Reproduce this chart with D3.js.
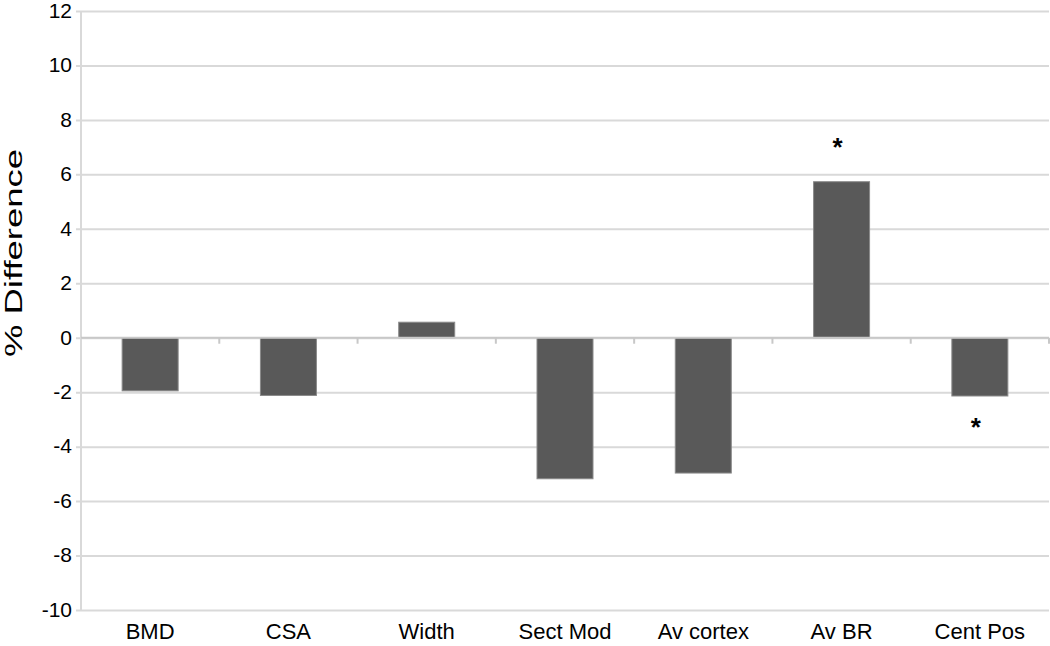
<!DOCTYPE html>
<html>
<head>
<meta charset="utf-8">
<script src="https://cdn.jsdelivr.net/npm/d3@7"></script>
<style>
  html, body { margin: 0; padding: 0; background: #fff; }
  svg { display: block; font-family: "Liberation Sans", Arial, Helvetica, sans-serif; }
</style>
</head>
<body>
<svg id="chart" width="1050" height="646"></svg>
<script>
const categories = ["BMD", "CSA", "Width", "Sect Mod", "Av cortex", "Av BR", "Cent Pos"];
const values = [-1.95, -2.12, 0.57, -5.18, -4.97, 5.73, -2.14];
const significant = ["Av BR", "Cent Pos"];
const yTicks = [-10, -8, -6, -4, -2, 0, 2, 4, 6, 8, 10, 12];
const yTitle = "% Difference";

(function () {
const svg = d3.select("#chart");
const mLeft = 81, mRight = 1049, mTop = 11, mBottom = 610;

const x = d3.scaleBand().domain(categories).range([mLeft, mRight])
  .paddingInner(0.595).paddingOuter(0.2975);
const y = d3.scaleLinear().domain([-10, 12]).range([mBottom, mTop]);

// gridlines + y axis labels
const yAxis = d3.axisLeft(y).tickValues(yTicks).tickFormat(d => String(d))
  .tickSize(mRight - mLeft + 5).tickSizeOuter(0).tickPadding(4);
const gy = svg.append("g").attr("transform", `translate(${mRight},0)`).call(yAxis);
gy.select(".domain").remove();
gy.selectAll(".tick line").attr("stroke", "#d9d9d9").attr("stroke-width", 2);
gy.selectAll(".tick text").attr("fill", "#000").attr("font-size", 21)
  .attr("font-family", "'Liberation Sans', Arial, sans-serif").attr("dy", "0.3em");

// left axis line
svg.append("line").attr("x1", mLeft).attr("x2", mLeft).attr("y1", mTop).attr("y2", mBottom)
  .attr("stroke", "#d9d9d9").attr("stroke-width", 2);

// bars
svg.append("g").selectAll("rect").data(categories).join("rect")
  .attr("x", (d) => x(d))
  .attr("width", x.bandwidth())
  .attr("y", (d, i) => y(Math.max(0, values[i])))
  .attr("height", (d, i) => Math.abs(y(values[i]) - y(0)))
  .attr("fill", "#595959")
  .attr("stroke", "#8a8a8a")
  .attr("stroke-width", 1);

// zero line with category ticks
const step = x.step();
svg.append("line").attr("x1", mLeft).attr("x2", mRight).attr("y1", y(0)).attr("y2", y(0))
  .attr("stroke", "#c8c8c8").attr("stroke-width", 2);
const boundaries = d3.range(1, categories.length + 1).map(i => mLeft + i * step);
svg.append("g").selectAll("line").data(boundaries).join("line")
  .attr("x1", d => d).attr("x2", d => d)
  .attr("y1", y(0)).attr("y2", y(0) + 6)
  .attr("stroke", "#c8c8c8").attr("stroke-width", 2);

// category labels
svg.append("g").selectAll("text").data(categories).join("text")
  .attr("x", d => x(d) + x.bandwidth() / 2)
  .attr("y", 639)
  .attr("text-anchor", "middle")
  .attr("font-size", 22)
  .attr("fill", "#000")
  .text(d => d);

// significance stars
svg.append("g").selectAll("text").data(significant).join("text")
  .attr("x", d => x(d) + x.bandwidth() / 2 - 4)
  .attr("y", d => {
    const v = values[categories.indexOf(d)];
    return v >= 0 ? y(v) - 26 : y(v) + 40;
  })
  .attr("text-anchor", "middle")
  .attr("font-size", 26)
  .attr("font-weight", "bold")
  .attr("fill", "#000")
  .text("*");

// y title
svg.append("text")
  .attr("transform", `translate(22,253) rotate(-90)`)
  .attr("text-anchor", "middle")
  .attr("font-size", 23)
  .attr("fill", "#000")
  .attr("textLength", 208)
  .attr("lengthAdjust", "spacingAndGlyphs")
  .text(yTitle);
})();
</script>
</body>
</html>
